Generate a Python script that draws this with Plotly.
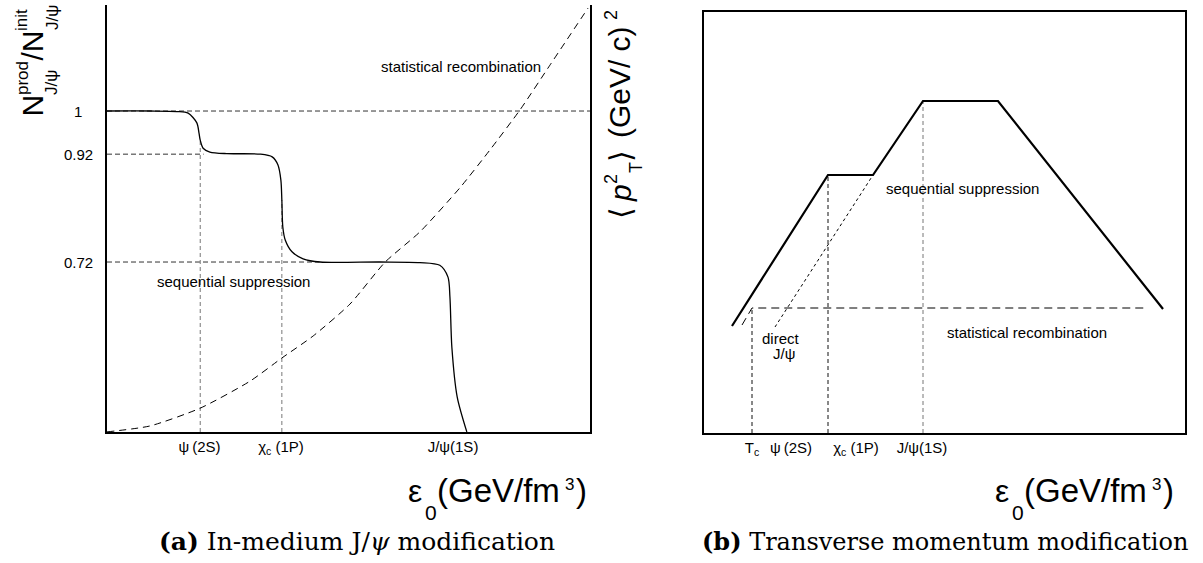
import plotly.graph_objects as go

W, H = 1203, 563
SANS = "Liberation Sans, Arial, Helvetica, sans-serif"
SERIF = "DejaVu Serif, serif"

# ---------------- panel (a): in-medium J/psi modification ----------------
# energy density (arbitrary units 0..10) and N_prod/N_init
a_supp_x = [0.00, 0.89, 1.45, 1.68, 1.86, 1.905, 1.93, 1.99, 2.13, 2.48, 3.17, 3.42, 3.54,
            3.60, 3.62, 3.64, 3.69, 3.83, 4.06, 4.41, 5.65, 6.48, 6.89, 7.06, 7.10, 7.14,
            7.25, 7.45]
a_supp_y = [1.000, 1.000, 0.999, 0.996, 0.978, 0.959, 0.946, 0.931, 0.924, 0.921, 0.920,
            0.915, 0.900, 0.872, 0.835, 0.785, 0.761, 0.739, 0.726, 0.720, 0.720, 0.719,
            0.714, 0.692, 0.655, 0.562, 0.470, 0.405]
a_recomb_x = [0.00, 0.89, 1.93, 2.96, 3.62, 4.27, 5.03, 5.76, 6.48, 7.31, 7.93, 8.55, 9.17, 9.96]
a_recomb_y = [0.405, 0.416, 0.449, 0.499, 0.542, 0.583, 0.642, 0.720, 0.776, 0.858, 0.928,
              1.002, 1.085, 1.191]
a_levels = [1.00, 0.92, 0.72]
a_level_text = ["1", "0.92", "0.72"]
a_level_xend = [10.0, 2.00, 4.40]
a_state_x = [1.93, 3.62]
a_state_ytop = [0.946, 0.835]
a_tick_x = [1.915, 3.602, 7.164]
a_tick_text = ["ψ\u2009(2S)", "χ<sub>c</sub> (1P)", "J/ψ(1S)"]
a_yrange = [0.4048, 1.1966]

# ---------------- panel (b): transverse momentum modification ----------------
b_pt_x = [0.582, 2.578, 3.514, 4.553, 6.112, 9.543]
b_pt_y = [2.542, 6.128, 6.128, 7.886, 7.886, 2.945]
b_recomb_x = [0.790, 0.998, 9.210]
b_recomb_y = [2.565, 2.969, 2.969]
b_direct_x = [1.476, 3.514]
b_direct_y = [2.518, 6.128]
b_vline_x = [0.998, 2.578, 4.553]
b_vline_ytop = [2.969, 6.128, 7.886]
b_vline_col = ["#111111", "#111111", "#777777"]
b_tick_x = [0.998, 1.809, 3.160, 4.532]
b_tick_text = ["T<sub>c</sub>", "ψ\u2009(2S)", "χ<sub>c</sub> (1P)", "J/ψ(1S)"]

fig = go.Figure()

# panel (a) guide lines
for lv, xe in zip(a_levels, a_level_xend):
    fig.add_trace(go.Scatter(x=[0, xe], y=[lv, lv], mode="lines", xaxis="x", yaxis="y",
                             line=dict(color="#333333", width=1, dash="5px,3px"), hoverinfo="skip"))
for xs, yt in zip(a_state_x, a_state_ytop):
    fig.add_trace(go.Scatter(x=[xs, xs], y=[a_yrange[0], yt], mode="lines", xaxis="x", yaxis="y",
                             line=dict(color="#777777", width=1, dash="4px,3px"), hoverinfo="skip"))
fig.add_trace(go.Scatter(x=a_recomb_x, y=a_recomb_y, mode="lines", xaxis="x", yaxis="y",
                         line=dict(color="black", width=1, dash="7px,5px", shape="spline",
                                   smoothing=0.6),
                         hoverinfo="skip"))
fig.add_trace(go.Scatter(x=a_supp_x, y=a_supp_y, mode="lines", xaxis="x", yaxis="y",
                         line=dict(color="black", width=1.3, shape="spline", smoothing=0.8),
                         hoverinfo="skip"))

# panel (b)
for xv, yt, c in zip(b_vline_x, b_vline_ytop, b_vline_col):
    fig.add_trace(go.Scatter(x=[xv, xv], y=[0, yt], mode="lines", xaxis="x2", yaxis="y2",
                             line=dict(color=c, width=1, dash="4px,3px"), hoverinfo="skip"))
fig.add_trace(go.Scatter(x=b_recomb_x, y=b_recomb_y, mode="lines", xaxis="x2", yaxis="y2",
                         line=dict(color="black", width=1, dash="8px,5px"), hoverinfo="skip"))
fig.add_trace(go.Scatter(x=b_direct_x, y=b_direct_y, mode="lines", xaxis="x2", yaxis="y2",
                         line=dict(color="black", width=1, dash="3px,3px"), hoverinfo="skip"))
fig.add_trace(go.Scatter(x=b_pt_x, y=b_pt_y, mode="lines", xaxis="x2", yaxis="y2",
                         line=dict(color="black", width=2.2), hoverinfo="skip"))

axis_common = dict(showline=True, linecolor="black", linewidth=1.5, showgrid=False,
                   zeroline=False, ticks="")
tickfont = dict(size=15, family=SANS, color="black")

fig.update_layout(
    width=W, height=H, margin=dict(l=0, r=0, t=0, b=0),
    paper_bgcolor="white", plot_bgcolor="white", showlegend=False,
    xaxis=dict(domain=[107 / W, 590 / W], range=[0, 10], anchor="y",
               tickvals=a_tick_x, ticktext=a_tick_text, tickfont=tickfont,
               ticklabelstandoff=0, **axis_common),
    yaxis=dict(domain=[1 - 432 / H, 1 - 5 / H], range=a_yrange, anchor="x",
               mirror=True, showticklabels=False, **axis_common),
    xaxis2=dict(domain=[704 / W, 1185 / W], range=[0, 10], anchor="y2", mirror=True,
                tickvals=b_tick_x, ticktext=b_tick_text, tickfont=tickfont,
                ticklabelstandoff=0, **axis_common),
    yaxis2=dict(domain=[1 - 433 / H, 1 - 12 / H], range=[0, 10], anchor="x2",
                mirror=True, showticklabels=False, **axis_common),
)


def dtxt(x, y, text, xref, yref, size=15):
    fig.add_annotation(x=x, y=y, xref=xref, yref=yref, text=text, showarrow=False,
                       font=dict(size=size, family=SANS, color="black"),
                       xanchor="center", yanchor="middle", borderwidth=0, borderpad=0)


def ptxt(px, py, text, size, angle=0, xanchor="center", family=SANS):
    fig.add_annotation(x=px / W, y=1 - py / H, xref="paper", yref="paper", text=text,
                       showarrow=False, textangle=angle, xanchor=xanchor, yanchor="middle",
                       font=dict(size=size, family=family, color="black"),
                       borderwidth=0, borderpad=0)


# y level labels of panel (a), centred left of the axis
for lv, t in zip(a_levels, a_level_text):
    fig.add_annotation(x=0, y=lv, xref="x domain", yref="y", text=t, showarrow=False,
                       xshift=-29, xanchor="center", yanchor="middle",
                       font=tickfont, borderwidth=0, borderpad=0)

# in-plot labels
dtxt(7.33, 1.083, "statistical recombination", "x", "y")
dtxt(2.61, 0.683, "sequential suppression", "x", "y")
dtxt(5.364, 5.819, "sequential suppression", "x2", "y2")
dtxt(6.715, 2.399, "statistical recombination", "x2", "y2")
dtxt(1.60, 2.233, "direct", "x2", "y2")
dtxt(1.663, 1.90, "J/ψ", "x2", "y2")

# y title panel (a): N^prod_{J/psi} / N^init_{J/psi}
ptxt(31.6, 106, "N", 30, -90)
ptxt(22, 78, "prod", 17, -90)
ptxt(52, 83, "J/ψ", 17, -90)
ptxt(31.6, 46, "/N", 30, -90)
ptxt(22, 20, "init", 17, -90)
ptxt(52, 18, "J/ψ", 17, -90)

# y title panel (b): <p_T^2> (GeV/c)^2
ptxt(620, 213, "⟨", 30, -90)
ptxt(620, 193, "<i>p</i>", 30, -90)
ptxt(611, 179, "2", 18, -90)
ptxt(636, 168, "T", 18, -90)
ptxt(620, 156, "⟩", 30, -90)
ptxt(619.6, 82.5, "(GeV/ c)", 30, -90)
ptxt(611, 15, "2", 18, -90)

# x titles: epsilon_0 (GeV/fm^3)
B = 502
for dx in (0, 587):
    ptxt(415 + dx, B - 11.1, "ε", 32)
    ptxt(431 + dx, B + 18 - 7.3, "0", 21)
    ptxt(437 + dx, B - 11.4, "(GeV/fm", 33, xanchor="left")
    ptxt(569 + dx, B - 18, "3", 17)
    ptxt(581.5 + dx, B - 11.4, ")", 33)

# captions
ptxt(357, 541, "<b>(a)</b> In-medium J/<i>ψ</i> modification", 25, family=SERIF)
ptxt(945, 541, "<b>(b)</b> Transverse momentum modification", 24, family=SERIF)

fig.write_html("out.html")
